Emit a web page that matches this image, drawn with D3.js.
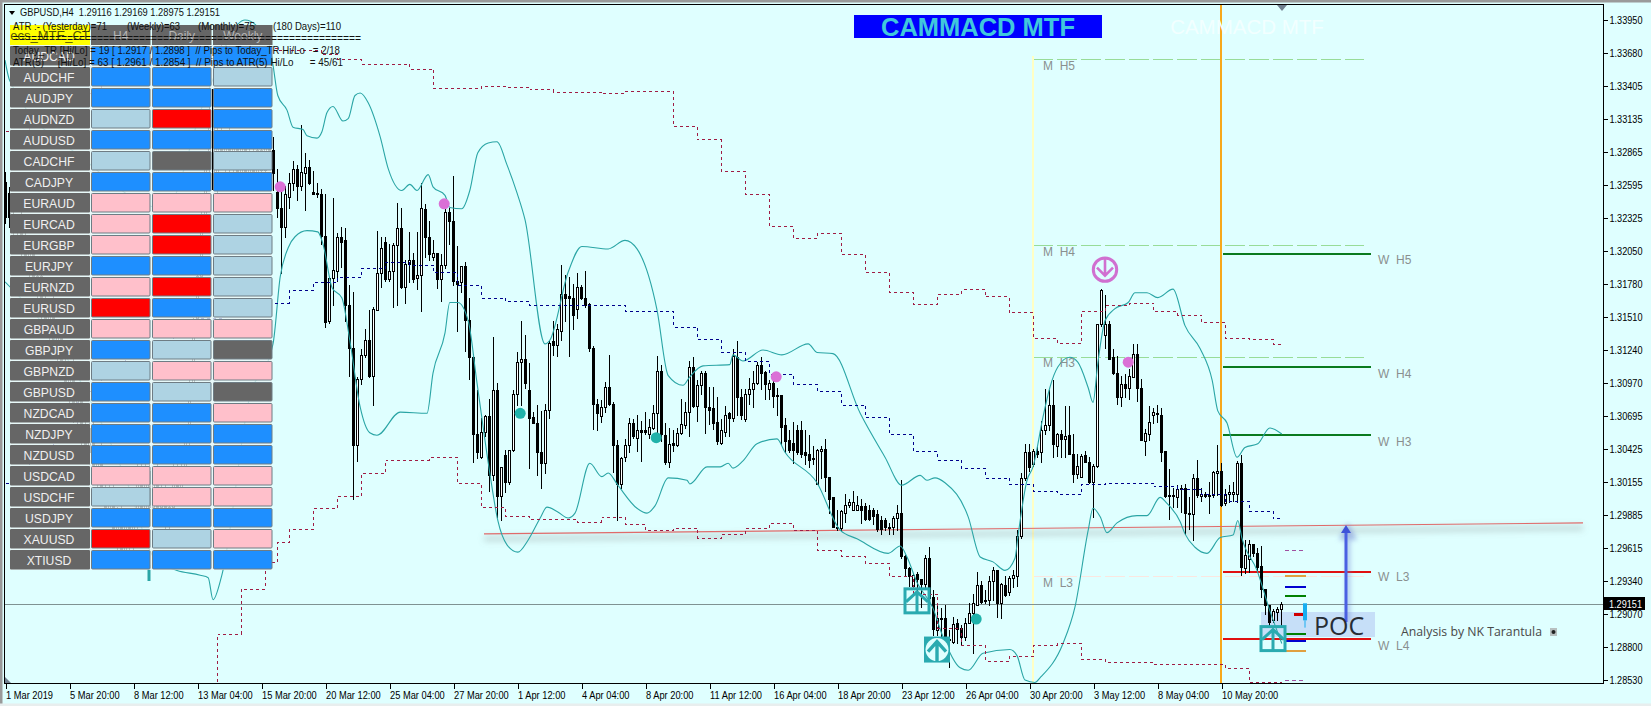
<!DOCTYPE html>
<html><head><meta charset="utf-8"><title>GBPUSD H4</title>
<script src="https://cdn.jsdelivr.net/npm/d3@7/dist/d3.min.js"></script>
<style>
html,body{margin:0;padding:0;background:#DFFFFF;overflow:hidden}
svg{display:block}
text{white-space:pre;font-family:"Liberation Sans",Arial,sans-serif}
</style></head><body><svg id="c" width="1651" height="706"></svg>
<script>
// ---- instrument prices in pips (1 pip = 0.0001) : open, high, low, close ----
const candleRows=[
[13262,13270,13228,13233],[13253,13258,13225,13233],[13233,13245,13215,13222],[13222,13235,13205,13230],[13230,13240,13200,13205],[13205,13222,13190,13195],[13195,13215,13180,13210],[13210,13218,13170,13175],
[13175,13190,13160,13185],[13185,13195,13150,13155],[13155,13175,13140,13145],[13145,13165,13125,13160],[13160,13168,13120,13125],[13125,13140,13105,13135],[13135,13145,13100,13105],[13105,13120,13085,13090],
[13090,13115,13080,13110],[13110,13118,13065,13070],[13070,13090,13055,13085],[13085,13095,13045,13050],[13050,13070,13035,13040],[13040,13065,13030,13060],[13060,13070,13020,13025],[13025,13045,13010,13040],
[13040,13050,13000,13005],[13005,13020,12985,12990],[12990,13015,12980,13010],[13010,13018,12970,12975],[12975,12995,12960,12990],[12990,13000,12955,12960],[12960,12985,12950,12980],[12980,12990,12960,12965],
[12965,12985,12955,12980],[12980,13030,12975,13020],[13020,13030,12985,12990],[12990,13030,12985,13025],[13025,13032,12985,12995],[12995,13028,12990,13020],[13020,13032,12990,12995],[12995,13015,12985,13010],
[13010,13018,12975,12980],[12980,13000,12970,12995],[12995,13032,12985,13025],[13025,13035,13005,13010],[13010,13032,13000,13025],[13025,13060,13015,13055],[13055,13100,13045,13095],[13095,13150,13085,13145],
[13145,13190,13135,13185],[13185,13240,13175,13235],[13235,13285,13225,13280],[13280,13325,13270,13315],[13315,13338,13255,13262],[13262,13310,13250,13300],[13300,13315,13275,13280],[13280,13300,13268,13295],
[13295,13308,13270,13275],[13275,13300,13265,13292],[13292,13305,13262,13268],[13268,13295,13262,13290],[13290,13302,13258,13265],[13265,13290,13255,13285],[13285,13298,13262,13270],[13270,13292,13262,13288],
[13288,13300,13265,13272],[13272,13296,13265,13290],[13290,13305,13278,13288],[13288,13299,13255,13269],[13254,13273,13233,13241],[13241,13255,13187,13225],[13225,13259,13217,13252],[13250,13269,13241,13261],
[13261,13279,13255,13273],[13273,13276,13247,13259],[13259,13309,13255,13270],[13269,13286,13239,13274],[13274,13280,13260,13261],[13254,13271,13252,13252],[13253,13261,13250,13252],[13252,13256,13211,13218],
[13218,13252,13143,13147],[13148,13184,13146,13183],[13183,13249,13161,13190],[13189,13220,13181,13217],[13217,13225,13192,13213],[13214,13224,13148,13161],[13161,13177,13103,13126],[13126,13172,13002,13046],
[13046,13102,13033,13100],[13100,13125,13096,13120],[13120,13141,13118,13132],[13132,13157,13102,13103],[13103,13159,13079,13158],[13157,13222,13157,13187],[13187,13217,13176,13208],[13213,13217,13181,13182],
[13182,13211,13181,13189],[13189,13212,13159,13210],[13210,13245,13161,13224],[13224,13241,13175,13176],[13176,13198,13163,13195],[13195,13221,13180,13198],[13198,13204,13180,13182],[13183,13221,13174,13186],
[13186,13261,13156,13241],[13240,13244,13200,13217],[13217,13230,13198,13203],[13200,13214,13198,13204],[13204,13204,13175,13182],[13182,13203,13164,13194],[13194,13240,13191,13237],[13237,13241,13211,13230],
[13230,13267,13177,13181],[13181,13209,13140,13178],[13180,13193,13172,13193],[13193,13196,13123,13149],[13149,13167,13100,13118],[13118,13121,13032,13055],[13055,13091,13035,13040],[13036,13068,13035,13057],
[13057,13071,13053,13070],[13070,13084,13008,13021],[13021,13135,13017,13091],[13091,13097,12987,13004],[13004,13028,12984,13028],[13038,13042,13007,13016],[13016,13042,13014,13042],[13042,13091,13041,13088],
[13088,13122,13079,13114],[13114,13148,13079,13117],[13117,13136,13093,13097],[13091,13113,13027,13068],[13069,13073,13064,13064],[13064,13079,13021,13040],[13040,13074,13011,13031],[13031,13080,13023,13075],
[13075,13131,13068,13130],[13131,13148,13120,13128],[13128,13145,13119,13141],[13140,13194,13132,13170],[13170,13186,13148,13167],[13168,13184,13119,13167],[13167,13178,13141,13153],[13158,13187,13150,13176],
[13176,13177,13166,13167],[13167,13189,13159,13161],[13162,13163,13123,13126],[13126,13127,13059,13080],[13080,13084,13058,13072],[13070,13083,13065,13077],[13077,13098,13073,13094],[13094,13120,13079,13080],
[13080,13081,13024,13046],[13046,13050,12984,13014],[13014,13036,13011,13035],[13036,13051,13033,13046],[13046,13068,13040,13064],[13064,13067,13052,13053],[13052,13071,13041,13058],[13058,13066,13033,13057],
[13058,13073,13055,13057],[13055,13067,13052,13061],[13060,13079,13059,13072],[13072,13119,13055,13107],[13107,13112,13049,13055],[13054,13064,13030,13032],[13032,13060,13028,13047],[13048,13058,13041,13046],
[13046,13060,13045,13056],[13056,13084,13055,13063],[13062,13081,13060,13073],[13073,13115,13053,13110],[13110,13118,13077,13078],[13078,13099,13066,13095],[13095,13107,13088,13105],[13105,13107,13056,13077],
[13077,13094,13063,13075],[13076,13094,13059,13064],[13065,13085,13047,13049],[13048,13067,13047,13058],[13057,13078,13053,13071],[13072,13073,13053,13068],[13068,13125,13066,13119],[13118,13131,13071,13085],
[13085,13092,13067,13071],[13067,13092,13066,13088],[13088,13101,13080,13092],[13092,13107,13077,13097],[13097,13114,13096,13112],[13112,13118,13092,13105],[13106,13107,13084,13096],[13092,13099,13084,13097],
[13097,13104,13077,13086],[13087,13093,13071,13086],[13087,13087,13047,13061],[13062,13068,13040,13049],[13050,13058,13040,13042],[13048,13065,13031,13042],[13058,13062,13039,13040],[13058,13066,13036,13039],
[13040,13058,13030,13038],[13039,13054,13028,13034],[13035,13045,13030,13035],[13014,13043,13014,13042],[13041,13045,13019,13043],[13043,13051,13008,13020],[13020,13020,12990,13002],[13003,13003,12979,12979],
[12978,12993,12976,12979],[12978,12993,12976,12992],[12990,13006,12983,12997],[12997,13002,12995,12999],[12993,13008,12993,12999],[12993,13004,12993,12997],[12996,13002,12982,12993],[12996,12998,12984,12985],
[12993,12997,12984,12985],[12993,12994,12981,12988],[12989,12993,12975,12977],[12984,12988,12973,12977],[12984,12986,12976,12979],[12979,12982,12973,12979],[12979,12988,12973,12986],[12986,12997,12976,12990],
[12990,13017,12953,12955],[12955,12956,12938,12945],[12945,12946,12930,12938],[12930,12941,12929,12939],[12940,12942,12927,12936],[12936,12936,12913,12932],[12932,12956,12928,12953],[12953,12962,12915,12920],
[12921,12927,12890,12895],[12894,12915,12890,12904],[12904,12912,12886,12903],[12904,12915,12886,12886],[12887,12894,12864,12886],[12884,12905,12883,12899],[12900,12903,12883,12895],[12896,12898,12882,12888],
[12888,12904,12886,12900],[12900,12916,12900,12908],[12908,12924,12875,12916],[12915,12942,12915,12931],[12931,12934,12916,12917],[12919,12927,12916,12918],[12919,12938,12915,12934],[12934,12946,12919,12943],
[12943,12943,12905,12916],[12916,12933,12904,12932],[12931,12938,12922,12923],[12925,12938,12923,12937],[12937,12943,12929,12939],[12938,12976,12930,12971],[12971,13023,12970,13019],[13019,13047,13017,13040],
[13040,13047,13025,13028],[13030,13043,13029,13041],[13041,13044,13036,13039],[13040,13066,13032,13058],[13058,13092,13055,13062],[13062,13091,13058,13079],[13079,13099,13036,13047],[13045,13056,13037,13055],
[13055,13058,13036,13051],[13051,13078,13036,13053],[13054,13078,13039,13039],[13039,13055,13016,13022],[13022,13039,13019,13029],[13020,13039,13020,13037],[13038,13041,13032,13032],[13032,13036,13015,13016],
[13016,13030,12987,13029],[13029,13145,13028,13145],[13145,13174,13144,13173],[13136,13169,13126,13145],[13145,13148,13117,13117],[13118,13125,13104,13105],[13105,13119,13080,13085],[13085,13103,13078,13096],
[13096,13104,13085,13093],[13093,13108,13084,13103],[13102,13129,13102,13121],[13121,13129,13082,13093],[13093,13100,13050,13050],[13049,13059,13038,13056],[13055,13078,13050,13065],[13071,13076,13064,13073],
[13072,13079,13065,13072],[13071,13076,13033,13040],[13041,13041,13003,13004],[13005,13026,12985,13004],[13005,13011,12995,13004],[13003,13013,12995,13010],[13011,13013,12991,13010],[13011,13014,12973,12990],
[12990,13003,12977,12989],[12989,13022,12968,13019],[13019,13034,13003,13005],[13004,13011,13000,13006],[13006,13007,13003,13004],[13005,13016,12990,13004],[13005,13025,13003,13024],[13023,13046,13005,13025],
[13025,13031,12996,12997],[12998,13010,12997,13006],[13006,13013,12999,13007],[13006,13016,13000,13007],[13006,13033,12999,13031],[13031,13038,12939,12946],[12945,12968,12941,12956],[12952,12968,12942,12965],
[12965,12965,12955,12957],[12957,12961,12943,12946],[12947,12963,12921,12928],[12928,12928,12907,12915],[12915,12915,12898,12901],[12902,12911,12901,12910],[12909,12913,12902,12911],[12911.6,12916.9,12897.5,12915.1]
];
// Bollinger bands: [bar, pips]
const bollingerUpper=[[0,13362],[1.2,13345],[20,13280],[40,13240],[50,13330],[60,13395],[66,13375],[67,13358],[68.2,13333],[70.5,13321],[72,13307],[74.5,13305],[75.5,13300],[78,13298],[79.2,13303],[80.5,13319],[82,13324],[84.5,13312],[85.8,13314],[87.5,13333],[88.8,13335],[90.8,13327],[93.8,13299],[95.8,13273],[99.2,13255],[101.2,13260],[103,13255],[105.8,13268],[107,13258],[110,13251],[111.2,13241],[114.2,13240],[116.2,13255],[118.2,13286],[120.8,13294],[123,13295],[125.5,13276],[128,13253],[130,13231],[135,13129],[136.2,13132],[140.8,13188],[144.2,13209],[150.8,13207],[155,13214],[158,13207],[163,13157],[165.8,13103],[169.5,13095],[171.2,13102],[174.5,13111],[181.2,13112],[182,13120],[184.5,13115],[189.5,13124],[194.2,13120],[200.8,13129],[203,13122],[207,13121],[213.8,13072],[220,13036],[224.2,13013],[228.8,13021],[230.5,13017],[232.5,13019],[235,13015],[240.8,12987],[243.8,12954],[247,12950],[250,12943],[252.5,12953],[253.2,12970],[255.5,13017],[257,13028],[259.5,13069],[261.2,13093],[263.2,13110],[266.2,13118],[268.2,13114],[270.8,13093],[272,13081],[273.2,13113],[275,13148],[277.5,13158],[280.8,13163],[282.5,13171],[285.5,13171],[288.2,13167],[292,13174],[295,13144],[298.8,13125],[301.8,13099],[303.2,13074],[305.5,13064],[308,13036],[310,13044],[313.2,13047],[316.2,13060],[319.2,13055]];
const bollingerLower=[[0,13180],[15,13120],[30,13020],[38,12950],[43,12943],[48.8,12939],[50.8,12937],[52,12919],[54.2,12939],[61,13083],[67,13129],[68.8,13184],[70.8,13208],[72.5,13217],[75.5,13222],[78.2,13221],[79.5,13211],[81.8,13175],[84.2,13167],[86.2,13132],[88.8,13077],[91.2,13056],[93,13054],[98.8,13073],[105.5,13072],[107,13105],[110,13138],[111.2,13163],[113.2,13163],[115.8,13148],[118,13097],[121.2,13023],[123.2,12984],[125.5,12964],[128.2,12958],[130.8,12968],[133.8,12986],[135.5,12995],[138.2,12991],[140.8,12986],[142.5,12990],[146.2,13031],[149.2,13020],[150.8,13023],[153.2,13013],[158,12994],[160.5,12990],[162.5,12996],[165.8,13019],[170.5,13017],[171.2,13014],[175.5,13028],[178.8,13028],[180.8,13031],[182,13027],[184.5,13033],[188,13047],[193,13051],[195,13040],[203,13015],[208.8,12976],[213,12969],[220.8,12957],[223.8,12963],[225.5,12954],[228,12933],[232,12912],[234.2,12891],[238.8,12863],[240.8,12861],[244.5,12875],[251.2,12878],[253,12873],[255,12853],[257.5,12851],[258.8,12855],[264.5,12883],[267.5,12913],[270.8,12976],[272,12994],[273.8,12987],[275.5,12974],[278,12982],[283,12988],[285.5,12988],[288.8,13003],[290.5,12998],[293.8,12983],[295,12973],[297.5,12962],[300.5,12957],[303.8,12970],[307,12972],[308.2,12984],[309.2,12970],[313,12943],[316.2,12910],[319.2,12883]];
// higher-timeframe channel, stepped: [first bar of the step, pips]
const channelUpper=[[0,13304],[6,13315],[12,13325],[18,13335],[24,13345],[30,13350],[36,13355],[42,13360],[48,13370],[54,13375],[60,13372],[68,13370],[74,13370],[79,13367],[83,13363],[89,13359],[101,13355],[107,13339],[119,13341],[125,13340],[131,13338],[137,13336],[149,13335],[155,13337],[167,13308],[173,13297],[179,13271],[185,13252],[191,13226],[197,13216],[203,13220],[209,13203],[215,13188],[221,13172],[227,13162],[233,13170],[239,13174],[245,13168],[251,13155],[257,13134],[263,13130],[269,13156],[275,13161],[281,13163],[287,13156],[293,13153],[299,13147],[305,13134],[311,13133],[317,13129],[319,13129]];
const channelMiddle=[[0,13015],[6,13040],[12,13060],[18,13090],[24,13110],[30,13120],[36,13130],[42,13140],[48,13150],[54,13155],[60,13160],[65,13163],[71,13173],[77,13180],[83,13184],[89,13191],[95,13196],[101,13194],[107,13188],[113,13177],[119,13167],[125,13164],[131,13161],[137,13161],[143,13161],[155,13156],[161,13156],[167,13143],[173,13133],[179,13122],[185,13115],[191,13104],[197,13096],[203,13090],[209,13079],[215,13069],[221,13055],[227,13041],[233,13034],[239,13027],[245,13019],[251,13014],[257,13008],[263,13006],[269,13014],[275,13015],[287,13012],[293,13010],[299,13006],[305,13000],[311,12992],[317,12986],[319,12986]];
const channelLower=[[46,12840],[53,12891],[59,12928],[65,12950],[68,12966],[71,12977],[77,12994],[83,13004],[89,13023],[95,13034],[106,13036],[113,13015],[119,12995],[125,12988],[131,12985],[143,12983],[149,12987],[155,12981],[160,12976],[167,12978],[173,12970],[179,12973],[185,12978],[191,12982],[197,12976],[203,12960],[209,12955],[215,12949],[221,12938],[227,12924],[233,12896],[239,12882],[245,12869],[251,12873],[257,12882],[263,12883],[269,12870],[275,12868],[287,12866],[305,12863],[311,12851],[319,12851]];
// signals: [bar, pips]
const pinkDots=[[68.8,13258],[109.8,13244],[192.8,13102],[280.8,13114]];
const tealDots=[[128.8,13072],[162.8,13052],[242.8,12903]];
const upFrames=[[228,12918],[317,12887]];
const upDisc=[[233,12878]];
const downRing=[[275,13190]];
// horizontal pivots
const monthlyLevels=[["M  H5",13363],["M  H4",13210],["M  H3",13118]];
const monthlyLow=[["M  L3",12938]];
const weeklyGreen=[["W  H5",13203],["W  H4",13110],["W  H3",13054]];
const weeklyRed=[["W  L3",12942],["W  L4",12887]];
const shortLevels=[[12960,"#A050A0",1,"4,3"],[12853,"#A050A0",1,"4,3"],[12938,"#E0A040",2,null],[12877,"#E0A040",2,null],[12929,"#0000D0",2,null],[12885,"#0000D0",2,null],[12922,"#008000",2,null],[12891,"#008000",2,null]];
const trendBars=[119.75,394.5], trendPips=[12973,12982];
const monthStartBar=257, weekStartBar=304, levelEndBar=339.75, weekEndBar=341.5;
const lastPrice=1.29151;
const hiddenWick=[[51.75,13338,13255]];
// axes
const yTickValues=["1.33950","1.33680","1.33405","1.33135","1.32865","1.32595","1.32325","1.32050","1.31780","1.31510","1.31240","1.30970","1.30695","1.30425","1.30155","1.29885","1.29615","1.29340","1.29070","1.28800","1.28530"];
const xTickLabels=["1 Mar 2019","5 Mar 20:00","8 Mar 12:00","13 Mar 04:00","15 Mar 20:00","20 Mar 12:00","25 Mar 04:00","27 Mar 20:00","1 Apr 12:00","4 Apr 04:00","8 Apr 20:00","11 Apr 12:00","16 Apr 04:00","18 Apr 20:00","23 Apr 12:00","26 Apr 04:00","30 Apr 20:00","3 May 12:00","8 May 04:00","10 May 20:00"];
// signal panel
const pairs=["AUDCAD","AUDCHF","AUDJPY","AUDNZD","AUDUSD","CADCHF","CADJPY","EURAUD","EURCAD","EURGBP","EURJPY","EURNZD","EURUSD","GBPAUD","GBPJPY","GBPNZD","GBPUSD","NZDCAD","NZDJPY","NZDUSD","USDCAD","USDCHF","USDJPY","XAUUSD","XTIUSD"];
const signalH4=   "BBBLBLBPPPBPRPBLBBBBPLBRB";
const signalDaily="BBBRBGBPRRBRBPLPLBBBPPBLB";
const signalWeekly="BLBBBLBPLLLLLPGPGPBBPPBPB";
const signalColors={B:"#1E8FFF",L:"#AED3E3",P:"#FFC0CB",R:"#FF0000",G:"#666666"};
const panelHeads=["H4","Daily","Weekly"];
const infoLines=[
 [13,30,"ATR :- (Yesterday)=71",94],[127,30,"(Weekly)=63",53],[198,30,"(Monthly)=75",57],[273,30,"(180 Days)=110",68],
 [13,54,"Today_TR [Hi/Lo] = 19 [ 1.2917 / 1.2898 ]  // Pips to Today_TR Hi/Lo   = 2/18",327],
 [13,66,"ATR(5)     [Hi/Lo] = 63 [ 1.2961 / 1.2854 ]  // Pips to ATR(5) Hi/Lo      = 45/61",330]];

const svg=d3.select("#c");
const PIP=1e-4;
const x=d3.scaleLinear().domain([0,319]).range([5,1281]);
const y=d3.scaleLinear().domain([1.2853,1.3395]).range([680,20]);
const Y=p=>y(p*PIP);
const defs=svg.append("defs");
defs.append("clipPath").attr("id","plot").append("rect").attr("x",5).attr("y",5).attr("width",1598).attr("height",678);
defs.append("filter").attr("id","blur").attr("x","-5%").attr("y","-200%").attr("width","110%").attr("height","500%").append("feGaussianBlur").attr("stdDeviation",3);
defs.append("filter").attr("id","blur2").attr("x","-200%").attr("y","-10%").attr("width","500%").attr("height","120%").append("feGaussianBlur").attr("stdDeviation",2.5);

// window frame
svg.append("rect").attr("width",1651).attr("height",706).attr("fill","#DFFFFF");
svg.append("rect").attr("width",1651).attr("height",2.5).attr("fill","#9a9a9a");
svg.append("rect").attr("width",2.5).attr("height",706).attr("fill","#9a9a9a");
svg.append("rect").attr("y",703.5).attr("width",1651).attr("height",2.5).attr("fill","#E8EEEE");

const g=svg.append("g").attr("clip-path","url(#plot)");

// POC highlight
g.append("rect").attr("x",1261).attr("y",612).attr("width",114).attr("height",25).attr("fill","#C6DFF8");

// monthly pivots
const hl=(sel,p,b0,b1,col,w,dash)=>{const yy=Math.round(Y(p))+(w%2?0.5:0);
  return sel.append("line").attr("x1",x(b0)).attr("x2",x(b1)).attr("y1",yy).attr("y2",yy).attr("stroke",col).attr("stroke-width",w).attr("stroke-dasharray",dash).attr("shape-rendering","crispEdges");};
monthlyLevels.forEach(d=>hl(g,d[1],monthStartBar,levelEndBar,"#98DC98",1,"20,4"));
monthlyLow.forEach(d=>hl(g,d[1],monthStartBar,levelEndBar,"#FBE6E0",1,"20,4"));
// vertical session lines
g.append("line").attr("x1",x(monthStartBar)).attr("x2",x(monthStartBar)).attr("y1",56).attr("y2",683).attr("stroke","#FFFFC4").attr("stroke-width",2).attr("shape-rendering","crispEdges");
g.append("line").attr("x1",x(weekStartBar)).attr("x2",x(weekStartBar)).attr("y1",5).attr("y2",683).attr("stroke","#F7A81B").attr("stroke-width",2).attr("shape-rendering","crispEdges");
weeklyGreen.forEach(d=>hl(g,d[1],weekStartBar+0.5,weekEndBar,"#0A7A1E",2));
weeklyRed.forEach(d=>hl(g,d[1],weekStartBar+0.5,weekEndBar,"#E01010",2));
shortLevels.forEach(d=>hl(g,d[0],320,325.25,d[1],d[2],d[3]));
hl(g,12907,322.25,325.25,"#D00000",3);

// last-price line
g.append("line").attr("x1",5).attr("x2",1603).attr("y1",Math.round(y(lastPrice))+.5).attr("y2",Math.round(y(lastPrice))+.5).attr("stroke","#7F9292").attr("stroke-width",1).attr("shape-rendering","crispEdges");

// trend line and its shadow
g.append("line").attr("x1",x(trendBars[0])).attr("x2",x(trendBars[1])).attr("y1",Y(trendPips[0])+5).attr("y2",Y(trendPips[1])+5).attr("stroke","#808888").attr("stroke-opacity",.32).attr("stroke-width",5).attr("filter","url(#blur)");
g.append("line").attr("x1",x(trendBars[0])).attr("x2",x(trendBars[1])).attr("y1",Y(trendPips[0])).attr("y2",Y(trendPips[1])).attr("stroke","#E06A6A").attr("stroke-width",1.1);

// candles
const cg=g.append("g").attr("shape-rendering","crispEdges");
const candles=candleRows.map((r,i)=>({i,o:r[0],h:r[1],l:r[2],c:r[3]}));
cg.selectAll("line").data(candles).join("line")
  .attr("x1",d=>Math.round(x(d.i))+.5).attr("x2",d=>Math.round(x(d.i))+.5)
  .attr("y1",d=>Math.round(Y(d.h))).attr("y2",d=>Math.round(Y(d.l))+1)
  .attr("stroke","#000");
cg.selectAll("rect").data(candles).join("rect")
  .attr("x",d=>Math.round(x(d.i))-.5).attr("width",2)
  .attr("y",d=>Math.round(Y(Math.max(d.o,d.c)))+.5)
  .attr("height",d=>Math.max(1,Math.round(Y(Math.min(d.o,d.c)))-Math.round(Y(Math.max(d.o,d.c)))))
  .attr("fill",d=>d.c>=d.o?"#FFFFFF":"#000").attr("stroke","#000");

// forming bar of the lower timeframe
g.append("line").attr("x1",x(325)).attr("x2",x(325)).attr("y1",Y(12916)).attr("y2",Y(12902)).attr("stroke","#18AEF0").attr("stroke-width",4);
g.append("line").attr("x1",x(325)).attr("x2",x(325)).attr("y1",Y(12902)).attr("y2",Y(12896)).attr("stroke","#18AEF0").attr("stroke-width",1);

// bands
const line=d3.line().x(d=>x(d[0])).y(d=>Y(d[1])).curve(d3.curveMonotoneX);
const stepLine=d3.line().x(d=>x(d[0])).y(d=>Y(d[1])).curve(d3.curveStepAfter);
[bollingerUpper,bollingerLower].forEach(s=>g.append("path").attr("d",line(s)).attr("fill","none").attr("stroke","#2AA5A5").attr("stroke-width",1.1));
const stepG=g.append("g").attr("shape-rendering","crispEdges").attr("fill","none").attr("stroke-width",1).attr("stroke-dasharray","3,3").attr("transform","translate(.5,.5)");
stepG.append("path").attr("d",stepLine(channelUpper)).attr("stroke","#A01C44");
stepG.append("path").attr("d",stepLine(channelLower)).attr("stroke","#A01C44");
stepG.append("path").attr("d",stepLine(channelMiddle)).attr("stroke","#00008B");
// teal stub visible under the panel
g.append("line").attr("x1",149).attr("x2",149).attr("y1",565).attr("y2",581).attr("stroke","#2AA5A5").attr("stroke-width",3);

// dots
g.selectAll("circle.p").data(pinkDots).join("circle").attr("class","p").attr("cx",d=>x(d[0])).attr("cy",d=>Y(d[1])).attr("r",5.5).attr("fill","#DA70D6");
g.selectAll("circle.t").data(tealDots).join("circle").attr("class","t").attr("cx",d=>x(d[0])).attr("cy",d=>Y(d[1])).attr("r",5.5).attr("fill","#20B2AA");

// arrow icons
const TEAL="#2AAAB0";
upFrames.forEach(d=>{const a=g.append("g").attr("transform",`translate(${x(d[0])},${Y(d[1])})`).attr("fill","none").attr("stroke",TEAL);
  a.append("rect").attr("x",-12).attr("y",-12).attr("width",24).attr("height",24).attr("stroke-width",3);
  a.append("path").attr("d","M-11,1 L0,-9 L11,1 M0,-9 V12").attr("stroke-width",3);});
upDisc.forEach(d=>{const a=g.append("g").attr("transform",`translate(${x(d[0])},${Y(d[1])})`);
  a.append("rect").attr("x",-13).attr("y",-13).attr("width",26).attr("height",26).attr("fill",TEAL);
  a.append("circle").attr("r",11.5).attr("fill","#DFFFFF");
  a.append("path").attr("d","M-9,2 L0,-8 L9,2 M0,-8 V12").attr("fill","none").attr("stroke",TEAL).attr("stroke-width",3.4);});
downRing.forEach(d=>{const a=g.append("g").attr("transform",`translate(${x(d[0])},${Y(d[1])})`).attr("fill","none").attr("stroke","#D070D0");
  a.append("circle").attr("r",11.7).attr("stroke-width",3);
  a.append("path").attr("d","M-8,-2 L0,6 L8,-2 M0,6 V-11").attr("stroke-width",2.6);});

// blue POC arrow
const arrow=g.append("g");
arrow.append("path").attr("d","M1346,622 V531 M1340,537 L1346,526 L1352,537 Z").attr("transform","translate(2,1)").attr("fill","#7080D0").attr("stroke","#7080D0").attr("stroke-width",4).attr("opacity",.5).attr("filter","url(#blur2)");
arrow.append("line").attr("x1",1346).attr("x2",1346).attr("y1",622).attr("y2",533).attr("stroke","#4A5FE2").attr("stroke-width",3);
arrow.append("path").attr("d","M1341,533 L1346,525 L1351,533 Z").attr("fill","#3E52D8");

// pivot labels
const lab=svg.append("g").attr("font-size",12).attr("fill","#8A8F8F");
const mOff=[70,256,367];
monthlyLevels.forEach((d,i)=>lab.append("text").attr("x",1043).attr("y",mOff[i]).text(d[0]));
lab.append("text").attr("x",1043).attr("y",587).text(monthlyLow[0][0]);
const wOff=[264,378,446,581,650];
weeklyGreen.concat(weeklyRed).forEach((d,i)=>lab.append("text").attr("x",1378).attr("y",wOff[i]).text(d[0]));

// text on the chart
svg.append("text").attr("x",1314).attr("y",635).attr("font-size",25).attr("fill","#262C34").style("font-family","'Open Sans'").text("POC");
svg.append("text").attr("x",1401).attr("y",636).attr("font-size",13).attr("fill","#484848").style("font-family","'Open Sans'").attr("textLength",141).attr("lengthAdjust","spacingAndGlyphs").text("Analysis by NK Tarantula");
svg.append("rect").attr("x",1550).attr("y",628).attr("width",7).attr("height",8).attr("fill","#B8C0C0");
svg.append("circle").attr("cx",1553.5).attr("cy",632).attr("r",2).attr("fill","#222");

// titles
svg.append("rect").attr("x",854).attr("y",15).attr("width",248).attr("height",23).attr("fill","#0000FF");
svg.append("text").attr("x",978).attr("y",36).attr("text-anchor","middle").attr("font-size",25.5).attr("font-weight","bold").attr("fill","#40C8DC").text("CAMMACD MTF");
svg.append("text").attr("x",1247).attr("y",34).attr("text-anchor","middle").attr("font-size",20.5).attr("fill","#F2FFFF").text("CAMMACD MTF");

// panel
const panel=svg.append("g");
const rowTop=i=>46+21*i, colX=[91,152,213], colW=59.5;
panel.append("rect").attr("x",10).attr("y",45).attr("width",262).attr("height",525).attr("fill","#EAF8F8").attr("opacity",.8);
panel.selectAll("line.w").data(hiddenWick).join("line").attr("class","w").attr("x1",d=>Math.round(x(d[0]))+.5).attr("x2",d=>Math.round(x(d[0]))+.5).attr("y1",d=>Y(d[1])).attr("y2",d=>Y(d[2])).attr("stroke","#000").attr("shape-rendering","crispEdges");
panel.selectAll("rect.n").data(pairs).join("rect").attr("class","n").attr("x",10).attr("y",(d,i)=>rowTop(i)).attr("width",80).attr("height",19.5).attr("rx",1).attr("fill","#666666");
panel.selectAll("text.n").data(pairs).join("text").attr("class","n").attr("x",49).attr("y",(d,i)=>rowTop(i)+14.5).attr("text-anchor","middle").attr("font-size",12.2).attr("fill","#F0F0F0").text(d=>d);
[signalH4,signalDaily,signalWeekly].forEach((s,c)=>{
  panel.selectAll("rect.c"+c).data(Array.from(s)).join("rect").attr("class","c"+c).attr("x",colX[c]+.5).attr("y",(d,i)=>rowTop(i)+.5).attr("width",colW-1).attr("height",18.5).attr("rx",1).attr("fill",d=>signalColors[d]).attr("stroke","#6E7C84").attr("stroke-width",1);
});
// panel header
panel.append("rect").attr("x",10).attr("y",25).attr("width",80).attr("height",20).attr("fill","#FFFF00");
panelHeads.forEach((h,c)=>{
  panel.append("rect").attr("x",colX[c]).attr("y",25).attr("width",colW).attr("height",20).attr("fill","#666666");
  panel.append("text").attr("x",colX[c]+colW/2).attr("y",40).attr("text-anchor","middle").attr("font-size",12).attr("fill","#B8B8B8").text(h);
});
panel.append("text").attr("x",50).attr("y",40).attr("text-anchor","middle").attr("font-size",13).attr("fill","#555500").text("ecs_MTE_CT");

// info text
const info=svg.append("g").attr("font-size",10.6).attr("fill","#111");
info.append("path").attr("d","M9,11 H15 L12,15 Z").attr("fill","#000");
info.append("text").attr("x",20).attr("y",16).attr("textLength",200).attr("lengthAdjust","spacingAndGlyphs").text("GBPUSD,H4  1.29116 1.29169 1.28975 1.29151");
info.selectAll("text.l").data(infoLines).join("text").attr("class","l").attr("x",d=>d[0]).attr("y",d=>d[1]).attr("textLength",d=>d[3]).attr("lengthAdjust","spacingAndGlyphs").text(d=>d[2]);
info.append("text").attr("x",13).attr("y",42).attr("textLength",348).attr("lengthAdjust","spacingAndGlyphs").text("=".repeat(58));

// axes
const yAxis=d3.axisRight(y).tickValues(yTickValues.map(Number)).tickFormat((d,i)=>yTickValues[i]).tickSize(4).tickPadding(2);
const ga=svg.append("g").attr("transform","translate(1603.5,0)").call(yAxis);
ga.select(".domain").remove();
ga.selectAll("text").attr("font-size",10).attr("fill","#000").attr("textLength",33).attr("lengthAdjust","spacingAndGlyphs").style("font-family","'Liberation Sans'");
ga.selectAll("line").attr("shape-rendering","crispEdges").attr("stroke","#000");
const xAxis=d3.axisBottom(x).tickValues(d3.range(0,305,16)).tickFormat((d,i)=>xTickLabels[i]).tickSize(5).tickPadding(3);
const gb=svg.append("g").attr("transform","translate(0.5,683.5)").call(xAxis);
gb.select(".domain").remove();
gb.selectAll("text").attr("font-size",10).attr("fill","#000").attr("text-anchor","start").attr("x",0).style("font-family","'Liberation Sans'").attr("transform","scale(0.93,1)");
gb.selectAll("line").attr("shape-rendering","crispEdges").attr("stroke","#000");

// plot border
svg.append("rect").attr("x",4.5).attr("y",4.5).attr("width",1599).attr("height",679).attr("fill","none").attr("stroke","#000").attr("shape-rendering","crispEdges");
svg.append("path").attr("d","M5,677 L11,683 H5 Z").attr("fill","#708090");
svg.append("path").attr("d","M1277,5 H1287 L1282,11 Z").attr("fill","#708090");

// current price tag
svg.append("rect").attr("x",1604).attr("y",Math.round(y(lastPrice))-7).attr("width",41).attr("height",13).attr("fill","#000");
svg.append("text").attr("x",1609).attr("y",Math.round(y(lastPrice))+4).attr("font-size",10).attr("fill","#FFF").attr("textLength",33).attr("lengthAdjust","spacingAndGlyphs").text("1.29151");
</script></body></html>
